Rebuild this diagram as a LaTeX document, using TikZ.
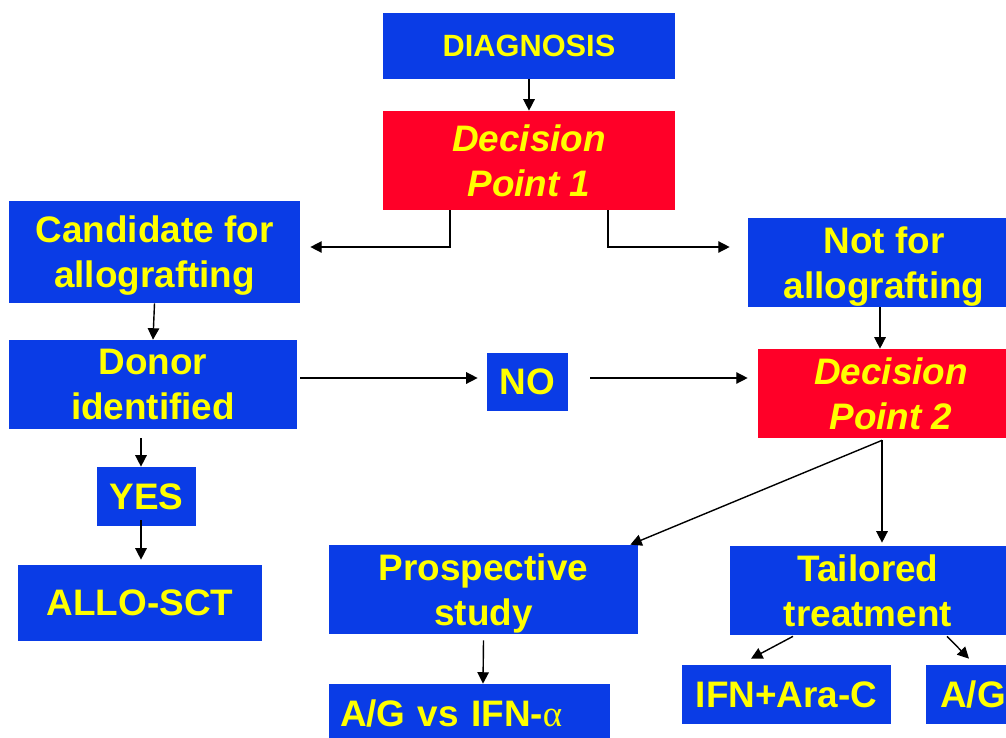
\documentclass[tikz,border=0pt]{standalone}
\usepackage{fontspec}
\setmainfont{Liberation Sans}
\usetikzlibrary{arrows.meta,calc}
\definecolor{boxblue}{RGB}{10,60,230}
\definecolor{decred}{RGB}{255,0,40}
\definecolor{txtyellow}{RGB}{255,255,0}
\begin{document}
\begin{tikzpicture}[
            x=0.02cm, y=-0.02cm,
            base_box/.style={rectangle, inner sep=0pt, align=center, text=txtyellow, text depth=0pt,
                font=\bfseries\fontsize{21}{25.5}\selectfont},
            blue_box/.style={base_box, fill=boxblue},
            red_box/.style={base_box, fill=decred, font=\bfseries\itshape\fontsize{21}{25.5}\selectfont},
            flow_arrow/.style={-{Triangle[length=6.5pt, width=6.5pt]}, line width=0.8pt, black}
        ]

        % Page frame
        \clip (0,0) rectangle (1006,737);
        \fill[white] (0,0) rectangle (1006,737);

        % Top of the tree
        \node[blue_box, minimum width=5.84cm, minimum height=1.32cm,
              font=\bfseries\fontsize{17.5}{21}\selectfont] (diag) at (529,46) {DIAGNOSIS};
        \node[red_box, minimum width=5.84cm, minimum height=1.98cm] (dp1) at (529,160.5) {Decision\\Point 1};

        % Left branch
        \node[blue_box, minimum width=5.82cm, minimum height=2.04cm] (cand) at (154.5,252) {Candidate for\\allografting};
        \node[blue_box, minimum width=5.76cm, minimum height=1.78cm] (donor) at (153,384.5) {Donor\\identified};
        \node[blue_box, minimum width=1.98cm, minimum height=1.18cm] (yes) at (146.5,496.5) {YES};
        \node[blue_box, minimum width=4.88cm, minimum height=1.52cm] (allo) at (140,603) {ALLO-SCT};
        \node[blue_box, minimum width=1.62cm, minimum height=1.16cm] (no) at (527.5,382) {NO};

        % Right branch
        \node[blue_box, minimum width=5.44cm, minimum height=1.78cm] (notfor) at (884,262.5) {Not for\\allografting};
        \node[red_box, minimum width=5.32cm, minimum height=1.78cm] (dp2) at (891,393.5) {Decision\\Point 2};
        \node[blue_box, minimum width=6.18cm, minimum height=1.78cm] (pros) at (483.5,589.5) {Prospective\\study};
        \node[blue_box, minimum width=5.52cm, minimum height=1.78cm] (tail) at (868,590.5) {Tailored\\treatment};

        % Bottom row
        \node[blue_box, text width=5.18cm, inner xsep=0.22cm, align=left, minimum height=1.16cm] (agvs) at (469.5,713)
            {A/G vs IFN-{\fontspec{Liberation Serif}\mdseries α}};
        \node[blue_box, minimum width=4.18cm, minimum height=1.18cm] (ifn) at (786.5,694.5) {IFN+Ara-C};
        \node[blue_box, minimum width=1.88cm, minimum height=1.18cm] (ag) at (973,694.5) {A/G};

        % Connectors
        \draw[flow_arrow] (diag.south) -- (dp1.north);
        \draw[flow_arrow] ($(dp1.south)+(-79,0)$) |- ($(cand.east)+(10,-5)$);
        \draw[flow_arrow] ($(dp1.south)+(79,0)$) |- ($(notfor.west)+(-18,-15.5)$);
        \draw[flow_arrow] (cand.south) -- (donor.north);
        \draw[flow_arrow] ($(donor.east)+(3,-6.5)$) -- ($(no.west)+(-9,-4)$);
        \draw[flow_arrow] ($(no.east)+(22,-4)$) -- ($(dp2.west)+(-10,-15.5)$);
        \draw[flow_arrow] ($(notfor.south)+(-4,0)$) -- ($(dp2.north)+(-11,0)$);
        \draw[flow_arrow] ($(donor.south)+(-12,9)$) -- ($(yes.north)+(-5.5,0)$);
        \draw[flow_arrow] ($(yes.south)+(-5.5,-6)$) -- ($(allo.north)+(1,-5)$);
        \draw[flow_arrow] ($(dp2.south)+(-9,2)$) -- ($(pros.north east)+(-8,0)$);
        \draw[flow_arrow] ($(dp2.south)+(-9,2)$) -- ($(tail.north)+(14,-3)$);
        \draw[flow_arrow] ($(pros.south)+(0,6)$) -- ($(agvs.north)+(13.5,0)$);
        \draw[flow_arrow] ($(tail.south)+(-75,1)$) -- ($(ifn.north)+(-35.5,-6)$);
        \draw[flow_arrow] ($(tail.south)+(79,1)$) -- ($(ag.north)+(-4,-6)$);

    \end{tikzpicture}
\end{document}
